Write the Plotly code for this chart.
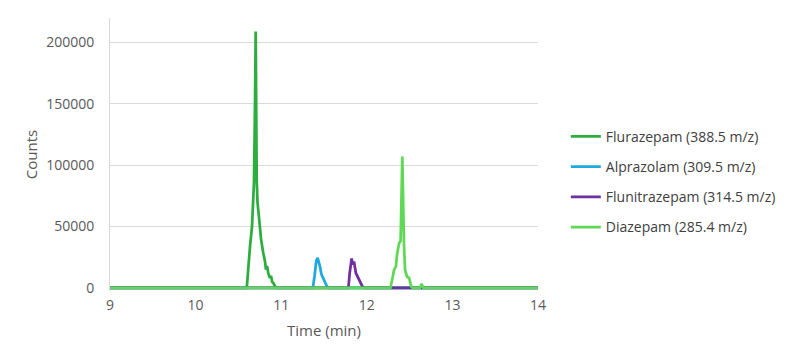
import plotly.graph_objects as go

# Flurazepam (388.5 m/z)
flur_t = [9.0, 10.59, 10.60, 10.616, 10.636, 10.659, 10.682, 10.694, 10.702, 10.714, 10.723, 10.744,
          10.764, 10.79, 10.81, 10.822, 10.835, 10.849, 10.869, 10.88, 10.895, 10.908, 10.93, 10.95, 14.0]
flur_y = [0, 0, 2000, 20000, 34000, 50000, 86000, 150000, 209000, 88000, 70000, 55000,
          40000, 28500, 22000, 15000, 18000, 12000, 8000, 10000, 5000, 4000, 1000, 0, 0]

# Alprazolam (309.5 m/z)
alpr_t = [9.0, 11.37, 11.39, 11.41, 11.426, 11.44, 11.453, 11.47, 11.487, 11.51, 11.53, 11.55, 14.0]
alpr_y = [0, 0, 10000, 22000, 24500, 21000, 17400, 11000, 8000, 5000, 2000, 0, 0]

# Flunitrazepam (314.5 m/z)
flun_t = [9.0, 11.785, 11.80, 11.823, 11.835, 11.85, 11.873, 11.90, 11.925, 11.95, 11.97, 14.0]
flun_y = [0, 0, 12000, 24000, 19000, 21500, 12000, 8000, 5000, 1000, 0, 0]

# Diazepam (285.4 m/z)
diaz_t = [9.0, 12.275, 12.30, 12.318, 12.34, 12.355, 12.378, 12.395, 12.415, 12.427, 12.435,
          12.447, 12.47, 12.495, 12.52, 12.535, 12.56, 12.62, 12.64, 12.66, 14.0]
diaz_y = [0, 0, 8000, 14700, 17400, 28000, 36700, 38000, 107000, 42000, 33700,
          14700, 9200, 8000, 1000, 0, 0, 0, 3300, 0, 0]

series = [
    ("Flurazepam (388.5 m/z)", flur_t, flur_y, "#2EAD3F"),
    ("Alprazolam (309.5 m/z)", alpr_t, alpr_y, "#1FA8E0"),
    ("Flunitrazepam (314.5 m/z)", flun_t, flun_y, "#7030A0"),
    ("Diazepam (285.4 m/z)", diaz_t, diaz_y, "#5FD855"),
]

FONT = "Open Sans"
fig = go.Figure()
for i, (name, t, y, c) in enumerate(series):
    fig.add_trace(go.Scatter(x=t, y=y, mode="lines", name=name, legendgroup=f"g{i}",
                             line=dict(color=c, width=2.75)))

fig.update_layout(
    width=800, height=364,
    margin=dict(l=110, r=262, t=18, b=73),
    paper_bgcolor="white", plot_bgcolor="white",
    font=dict(family=FONT, size=14, color="#595959"),
    legend=dict(x=1.065, y=0.40, xanchor="left", yanchor="middle",
                font=dict(family=FONT, size=14, color="#404040"),
                tracegroupgap=9, bgcolor="rgba(0,0,0,0)"),
    xaxis=dict(range=[9, 14], dtick=1, showgrid=False, zeroline=False,
               showline=False, ticks="", ticklabelstandoff=4,
               title=dict(text="Time (min)", font=dict(size=15, color="#595959"), standoff=12)),
    yaxis=dict(range=[-2500, 220000], tickvals=[0, 50000, 100000, 150000, 200000],
               showgrid=True, gridcolor="#d9d9d9",
               zeroline=False, showline=True, linecolor="#d9d9d9", linewidth=1,
               ticks="", ticklabelstandoff=12, tickformat="d",
               title=dict(text="Counts", font=dict(size=15, color="#595959"), standoff=4)),
)

fig.write_html("out.html")
